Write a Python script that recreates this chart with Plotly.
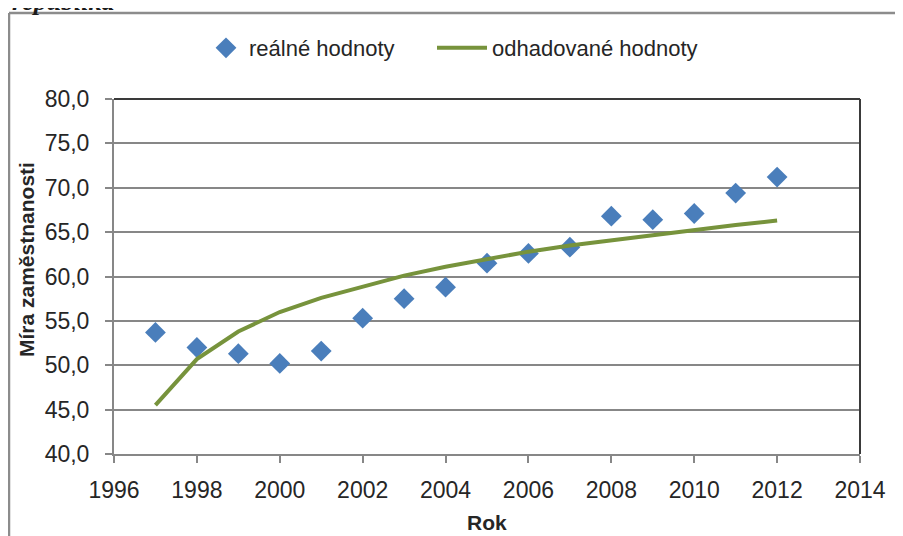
import plotly.graph_objects as go

years = list(range(1997, 2013))
real_values = [53.7, 52.0, 51.3, 50.2, 51.6, 55.3, 57.5, 58.8, 61.5, 62.6, 63.3, 66.8, 66.4, 67.1, 69.4, 71.2]
est_values = [45.5, 50.7, 53.8, 56.0, 57.6, 58.9, 60.1, 61.1, 62.0, 62.8, 63.5, 64.1, 64.7, 65.3, 65.8, 66.3]
x_ticks = list(range(1996, 2015, 2))
y_ticks = [40, 45, 50, 55, 60, 65, 70, 75, 80]

# page body has an 8px default margin; work in screen coordinates and convert
OFF = 8
W, H = 903 - OFF, 536 - OFF
L, T = 114 - OFF, 99 - OFF
R = W - (860 - OFF)
B = H - (454 - OFF)
pw, ph = W - L - R, H - T - B

def px(xs):
    return (xs - OFF - L) / pw

def py(ys):
    return (H - B - (ys - OFF)) / ph

grid = "#878787"
frame = "#8c8c8c"
txt = "#262626"
font = "Liberation Sans, Arial, sans-serif"

fig = go.Figure()
fig.add_trace(go.Scatter(
    x=years, y=real_values, mode="markers", name="reálné hodnoty",
    marker=dict(symbol="diamond", size=16, color="#4A7EBB", line=dict(width=0)),
    legend="legend", showlegend=True,
))
fig.add_trace(go.Scatter(
    x=years, y=est_values, mode="lines", name="odhadované hodnoty",
    line=dict(color="#77933C", width=4),
    legend="legend2", showlegend=True,
))

fig.update_layout(
    width=W, height=H,
    margin=dict(l=L, r=R, t=T, b=B),
    paper_bgcolor="white", plot_bgcolor="white",
    separators=", ",
    showlegend=True,
    font=dict(family=font, size=23, color=txt),
    legend=dict(orientation="h", x=px(203), y=py(48), xanchor="left", yanchor="middle",
                font=dict(size=22, color=txt), bgcolor="rgba(0,0,0,0)", itemwidth=36),
    legend2=dict(orientation="h", x=px(432), y=py(48), xanchor="left", yanchor="middle",
                 font=dict(size=22, color=txt), bgcolor="rgba(0,0,0,0)", itemwidth=50),
    xaxis=dict(range=[1996, 2014], tickvals=x_ticks, showgrid=False, zeroline=False,
               showline=True, linecolor=grid, linewidth=2,
               ticks="outside", ticklen=7, tickcolor=grid, tickwidth=2,
               ticklabelstandoff=7,
               tickfont=dict(size=23, color=txt)),
    yaxis=dict(range=[40, 80], tickvals=y_ticks, tickformat=".1f", showgrid=True,
               gridcolor=grid, gridwidth=2, zeroline=False,
               showline=True, linecolor=grid, linewidth=2,
               ticks="outside", ticklen=7, tickcolor=grid, tickwidth=2,
               ticklabelstandoff=11,
               tickfont=dict(size=23, color=txt)),
    modebar=dict(bgcolor="rgba(0,0,0,0)", color="rgba(0,0,0,0)", activecolor="rgba(0,0,0,0)"),
    shapes=[
        dict(type="line", xref="paper", yref="paper", x0=0, x1=1, y0=1, y1=1,
             line=dict(color="#3a3a3a", width=2)),
        dict(type="line", xref="paper", yref="paper", x0=1, x1=1, y0=0, y1=1,
             line=dict(color="#3a3a3a", width=2)),
        dict(type="line", xref="paper", yref="paper", x0=px(9), x1=px(920), y0=py(13), y1=py(13),
             line=dict(color=frame, width=2.5), layer="below"),
        dict(type="line", xref="paper", yref="paper", x0=px(9), x1=px(9), y0=py(13), y1=py(560),
             line=dict(color=frame, width=2.5), layer="below"),
    ],
    annotations=[
        dict(text="<b>Míra zaměstnanosti</b>", xref="paper", yref="paper", x=px(27), y=py(260),
             textangle=-90, showarrow=False, font=dict(size=21, color=txt),
             xanchor="center", yanchor="middle"),
        dict(text="<b>Rok</b>", xref="paper", yref="paper", x=px(487), y=py(522),
             showarrow=False, font=dict(size=21, color=txt), xanchor="center", yanchor="middle"),
        dict(text="<b><i>republika</i></b>", xref="paper", yref="paper", x=px(10), y=py(2),
             showarrow=False, font=dict(size=26, color="#1a1a1a", family="Liberation Serif, serif"),
             xanchor="left", yanchor="middle"),
    ],
)

fig.write_html("out.html")
